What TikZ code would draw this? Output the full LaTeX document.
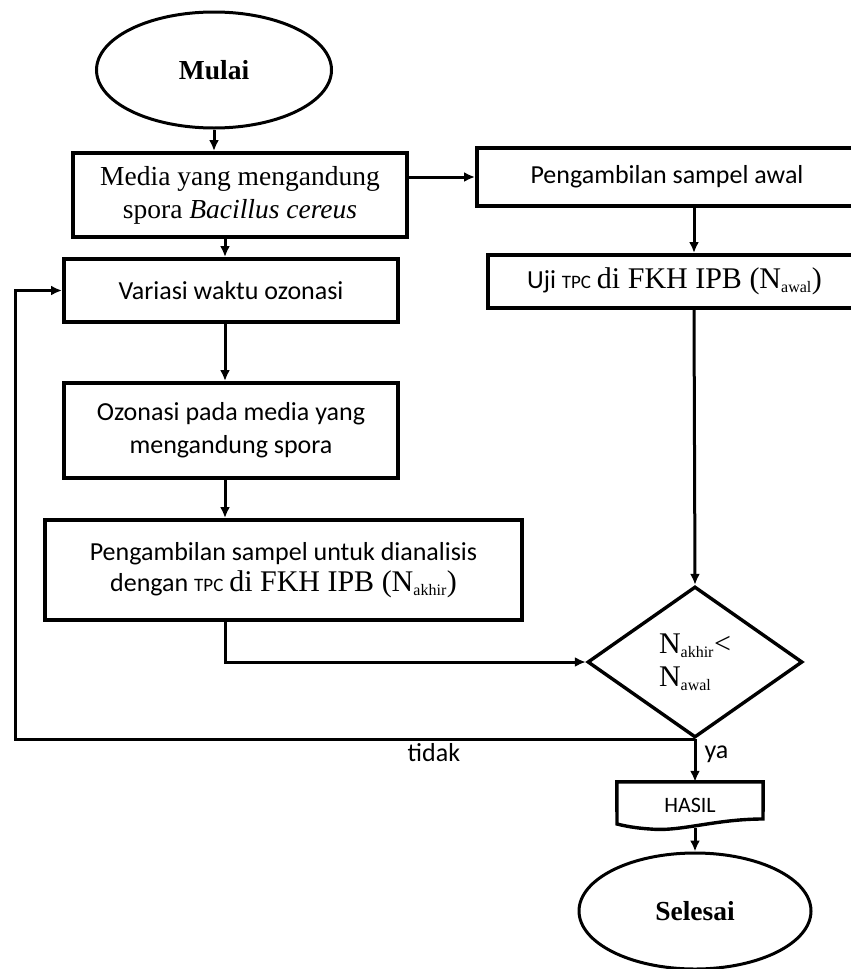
\documentclass[tikz,border=0pt]{standalone}
\usepackage{fontspec}
\setmainfont{Liberation Serif}
\newfontfamily\calibri{Carlito}
\usetikzlibrary{shapes.geometric,arrows.meta}
\newcommand\serifteks{\fontsize{27.5}{33}\selectfont}
\newcommand\sansteks{\calibri\fontsize{26}{33}\selectfont}
\newcommand\kecil{\calibri\fontsize{19}{20}\selectfont}
\newcommand\besar{\rmfamily\fontsize{30}{33}\selectfont}
\newcommand\sub[1]{\textsubscript{\fontsize{16}{18}\selectfont #1}}

\begin{document}
\begin{tikzpicture}[x=1pt,y=-1pt,
	every node/.style={inner sep=0pt},
	kotak/.style={draw,rectangle,line width=4pt,align=center,font=\sansteks},
	oval/.style={draw,ellipse,line width=3pt,font=\serifteks\bfseries},
	belah/.style={draw,diamond,line width=3.4pt,minimum width=215,minimum height=151,aspect=1.42,align=left,font=\besar},
	panah/.style={line width=3pt,-{Latex[length=11pt,width=10pt]}},
	garis/.style={line width=3pt}]
	\useasboundingbox (0,0) rectangle (851,969);
	\clip (0,0) rectangle (851,969);
	\fill[white] (0,0) rectangle (851,969);
	\coordinate (spine) at (225,0);
	\coordinate (kolom) at (694,0);
	\coordinate (kiri) at (15,0);
	% kolom kiri
	\node[oval,minimum width=235,minimum height=116] (mulai) at (214,70) {Mulai};
	\node[kotak,minimum width=334,minimum height=84,font=\serifteks] (media) at (240,195) {Media yang mengandung\\spora \textit{Bacillus cereus}};
	\node[kotak,minimum width=334,minimum height=63] (variasi) at (231,290.5) {Variasi waktu ozonasi};
	\node[kotak,minimum width=334,minimum height=95] (ozon) at (231,430.5) {Ozonasi pada media yang\\mengandung spora};
	\node[kotak,minimum width=477,minimum height=100] (ambil) at (283.5,570) {Pengambilan sampel untuk dianalisis\\[-2pt]dengan {\kecil TPC} {\besar di FKH IPB (N\sub{akhir})}};
	% kolom kanan
	\node[kotak,minimum width=380,minimum height=58] (awal) at (667,177) {Pengambilan sampel awal};
	\node[kotak,minimum width=373,minimum height=53] (uji) at (674.5,281.5) {Uji {\kecil TPC} {\besar di FKH IPB (N\sub{awal})}};
	\node[belah] (cek) at (695,662) {N\sub{akhir}<\\N\sub{awal}};
	\node[minimum width=146,minimum height=46,font=\calibri\fontsize{22}{24}\selectfont] (hasil) at (690,805) {HASIL};
	\draw[line width=3.4pt] (hasil.north west) -- (hasil.north east) -- (763,819)
		.. controls (715,819) and (680,832) .. (650,829)
		.. controls (635,828) and (625,826) .. (617,824) -- cycle;
	\node[oval,minimum width=232,minimum height=116] (selesai) at (695,911) {Selesai};
	% panah
	\draw[panah] (mulai.south) -- (mulai.south |- media.north);
	\draw[panah] (media.south -| spine) -- (variasi.north -| spine);
	\draw[panah] (variasi.south -| spine) -- (ozon.north -| spine);
	\draw[panah] (ozon.south -| spine) -- (ambil.north -| spine);
	\draw[panah] (ambil.south -| spine) -- (spine |- cek.west) -- (cek.west);
	\draw[panah] (media.east |- awal.west) -- (awal.west);
	\draw[panah] (awal.south -| kolom) -- (uji.north -| kolom);
	\draw[panah] (uji.south -| kolom) -- (cek.north);
	\draw[panah] (cek.south) -- (hasil.north -| cek.south)
		node[pos=0.35,anchor=west,xshift=8pt,font=\sansteks] {ya};
	\draw[panah] (hasil.south -| cek.south) -- (selesai.north);
	\draw[panah] (cek.south) -- (kiri |- cek.south)
		node[pos=0.384,below=3pt,font=\sansteks] {tidak}
		-- (kiri |- variasi.west) -- (variasi.west);
\end{tikzpicture}
\end{document}
